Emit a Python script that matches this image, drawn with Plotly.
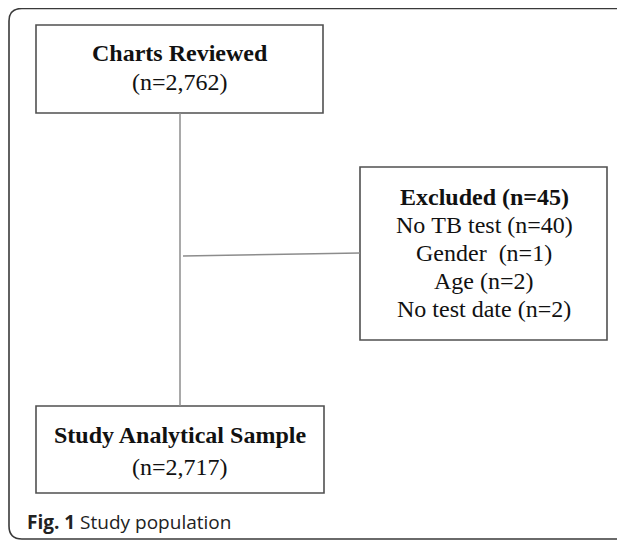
import plotly.graph_objects as go

# ---- data ----
box_titles = ["Charts Reviewed", "Excluded (n=45)", "Study Analytical Sample"]
box_counts = ["(n=2,762)", None, "(n=2,717)"]
excluded_reasons = ["No TB test", "Gender ", "Age", "No test date"]
excluded_counts = [40, 1, 2, 2]
caption_bold = "Fig. 1"
caption_text = "Study population"

# ---- layout geometry (page pixel coords; page body has an 8px margin) ----
W, H = 625, 540
OFF = 8
boxes = [  # x0, y0, x1, y1
    (36, 25, 323, 113),
    (360, 167, 607, 340),
    (36, 406, 324, 493),
]
serif = "Liberation Serif, Times New Roman, serif"
fs = 24
box_line = "#505050"
conn_line = "#8c8c8c"

fig = go.Figure()
fig.add_trace(go.Scatter(x=[OFF, W], y=[OFF, H], mode="markers",
                         marker=dict(opacity=0), hoverinfo="skip", showlegend=False))

shapes = []
shapes.append(dict(type="path",
                   path="M 640,8.5 L 22,8.5 Q 9,8.5 9,21 L 9,526 Q 9,539 22,539 L 640,539",
                   line=dict(color="#3a3a3a", width=1.6)))
for (x0, y0, x1, y1) in boxes:
    shapes.append(dict(type="rect", x0=x0, y0=y0, x1=x1, y1=y1,
                       line=dict(color=box_line, width=1.6), fillcolor="rgba(0,0,0,0)"))
shapes.append(dict(type="line", x0=180, y0=113, x1=180, y1=406,
                   line=dict(color=conn_line, width=1.5)))
shapes.append(dict(type="line", x0=183, y0=256, x1=360, y1=253,
                   line=dict(color=conn_line, width=1.5)))

ann = []
def txt(x, y, s, bold=False, size=fs, family=serif):
    ann.append(dict(x=x, y=y, xref="x", yref="y", text=(f"<b>{s}</b>" if bold else s),
                    showarrow=False, xanchor="center", yanchor="middle",
                    font=dict(family=family, size=size, color="#111")))

txt(180, 53, box_titles[0], bold=True)
txt(180, 82, box_counts[0])
ex_cx = 484
ys = [197, 225, 253, 281, 309]
txt(ex_cx, ys[0], box_titles[1], bold=True)
for i, (r, c) in enumerate(zip(excluded_reasons, excluded_counts)):
    txt(ex_cx, ys[i + 1], f"{r} (n={c})".replace(" ", "&nbsp;"))
txt(180, 435, box_titles[2], bold=True)
txt(180, 467, box_counts[2])
ann.append(dict(x=25, y=522, xref="x", yref="y",
                text=f"<b>{caption_bold}</b> {caption_text}", showarrow=False,
                xanchor="left", yanchor="middle",
                font=dict(family="Open Sans, sans-serif", size=19, color="#222")))

fig.update_layout(
    width=W - OFF, height=H - OFF, margin=dict(l=0, r=0, t=0, b=0),
    paper_bgcolor="white", plot_bgcolor="white",
    xaxis=dict(range=[OFF, W], visible=False, fixedrange=True),
    yaxis=dict(range=[H, OFF], visible=False, fixedrange=True),
    shapes=shapes, annotations=ann, showlegend=False,
)
fig.write_html("out.html", config={"displayModeBar": False})
